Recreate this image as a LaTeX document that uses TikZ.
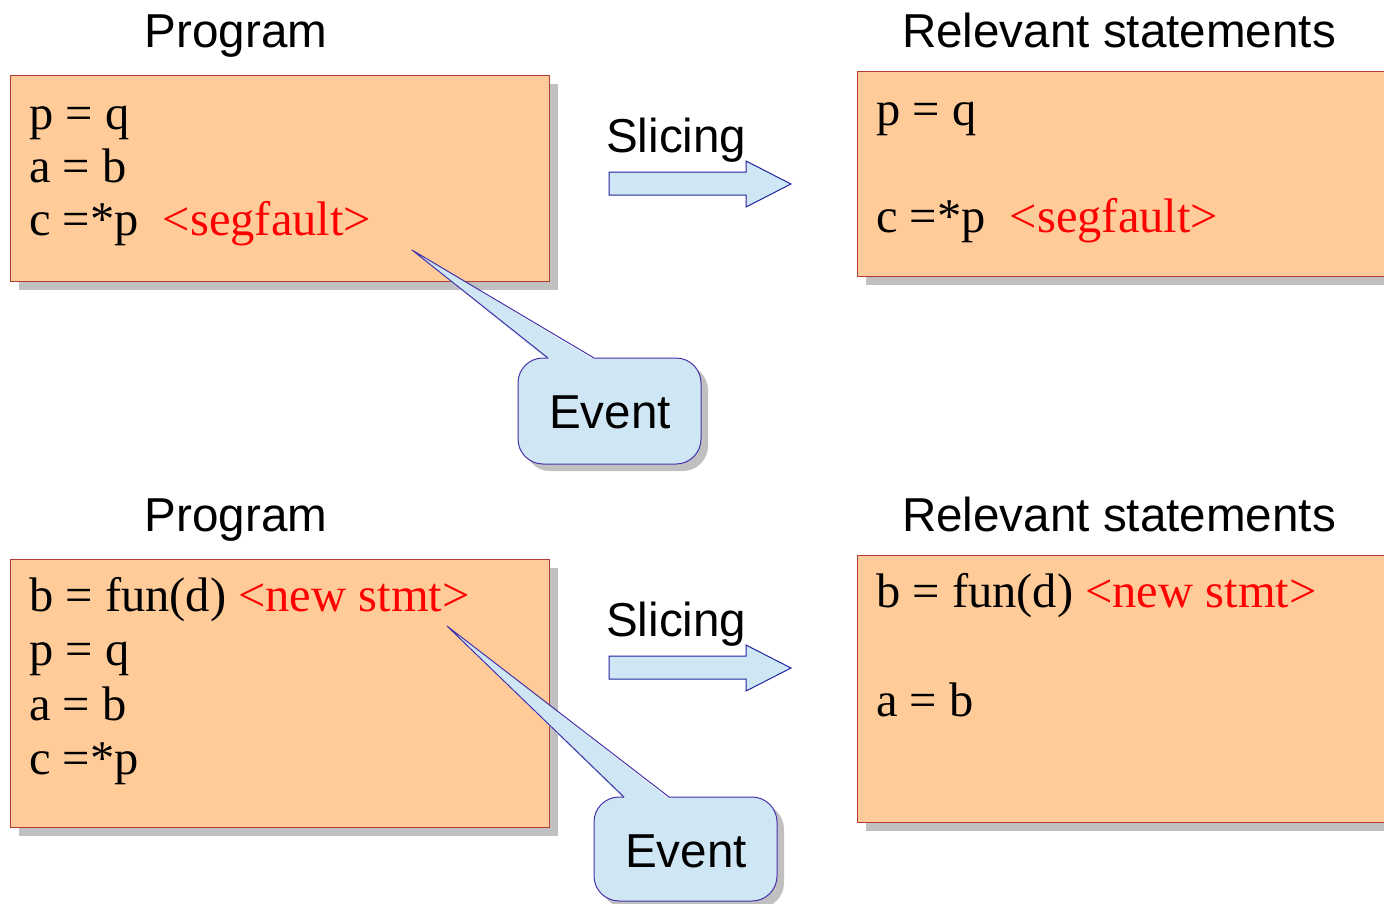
\documentclass[tikz,border=0pt]{standalone}
\usepackage{fontspec}
\setmainfont{Liberation Serif}
\newfontfamily\lsans{Liberation Sans}
\usetikzlibrary{shadows}
\definecolor{peach}{RGB}{255,204,153}
\definecolor{boxline}{RGB}{180,60,50}
\definecolor{shade}{RGB}{192,192,192}
\definecolor{pale}{RGB}{207,230,244}
\definecolor{navy}{RGB}{35,35,160}
\definecolor{calline}{RGB}{70,50,170}
\definecolor{segred}{RGB}{255,0,0}
\begin{document}
\begin{tikzpicture}[x=1pt,y=-1pt,
  codebox/.style={draw=boxline, line width=1pt, fill=peach, anchor=north west, inner sep=0pt,
    general shadow={fill=shade, shadow xshift=8pt, shadow yshift=-8pt}},
  code/.style={anchor=base west, inner sep=0pt, font=\fontsize{48.5}{52}\selectfont},
  title/.style={anchor=base, inner sep=0pt, font=\lsans\fontsize{47.6}{50}\selectfont},
  blockarrow/.style={draw=navy, fill=pale, line width=1pt, line join=miter},
  calfill/.style={fill=pale},
  calshadow/.style={fill=shade, rounded corners=25pt},
  caldraw/.style={draw=calline, line width=1pt, line join=round}
]
\useasboundingbox (0,0) rectangle (1384,903);
\clip (0,0) rectangle (1384,903);

% titles
\node[title] (t1) at (236,47) {Program};
\node[title] (t2) at (1119,47) {Relevant statements};
\node[title] (t3) at (236,531) {Program};
\node[title] (t4) at (1119,531) {Relevant statements};

% code boxes
\node[codebox, minimum width=539pt, minimum height=206pt] (prog1) at (10,75) {};
\node[codebox, minimum width=545pt, minimum height=205pt] (rel1) at (857,71) {};
\node[codebox, minimum width=539pt, minimum height=268pt] (prog2) at (10,559) {};
\node[codebox, minimum width=545pt, minimum height=267pt] (rel2) at (857,555) {};

% code text
\node[code] (p1a) at (29,129) {p = q};
\node[code] (p1b) at (29,182) {a = b};
\node[code] (p1c) at (29,235) {c =*p~~\textcolor{segred}{\textless segfault\textgreater}};
\node[code] (r1a) at (876,125) {p = q};
\node[code] (r1b) at (876,232) {c =*p~~\textcolor{segred}{\textless segfault\textgreater}};
\node[code] (p2a) at (29,611) {b = fun(d) \textcolor{segred}{\textless new stmt\textgreater}};
\node[code] (p2b) at (29,665) {p = q};
\node[code] (p2c) at (29,720) {a = b};
\node[code] (p2d) at (29,774) {c =*p};
\node[code] (r2a) at (876,607) {b = fun(d) \textcolor{segred}{\textless new stmt\textgreater}};
\node[code] (r2b) at (876,716) {a = b};

% slicing arrows
\node[title, anchor=base west] (s1) at (606,152) {Slicing};
\node[title, anchor=base west] (s2) at (606,636) {Slicing};
\draw[blockarrow] (609,172) -- (746,172) -- (746,161) -- (791,184) -- (746,207) -- (746,195) -- (609,195) -- cycle;
\draw[blockarrow] (609,656) -- (746,656) -- (746,645) -- (791,668) -- (746,691) -- (746,679) -- (609,679) -- cycle;

% callout 1
\coordinate (tip1) at (412,250);
\coordinate (a1) at (548,358);
\coordinate (b1) at (594,358);
\fill[calshadow] (525,365) rectangle (708,471);
\fill[calfill, rounded corners=25pt] (518,358) rectangle (701,464);
\fill[calfill] (tip1) -- ([yshift=-2pt]b1) -- ([yshift=-2pt]a1) -- cycle;
\fill[calfill] (a1) -- (b1) -- ++(0,4) -- ([yshift=4pt]a1) -- cycle;
\draw[caldraw, rounded corners=25pt] (a1) -- (518,358) -- (518,464) -- (701,464) -- (701,358) -- (b1);
\draw[caldraw] (a1) -- (tip1) -- (b1);
\node[title] (ev1) at (610,428) {Event};

% callout 2
\coordinate (tip2) at (447,626);
\coordinate (a2) at (624,797);
\coordinate (b2) at (669,797);
\fill[calshadow] (601,804) rectangle (784,908);
\fill[calfill, rounded corners=25pt] (594,797) rectangle (777,901);
\fill[calfill] (tip2) -- ([yshift=-2pt]b2) -- ([yshift=-2pt]a2) -- cycle;
\fill[calfill] (a2) -- (b2) -- ++(0,4) -- ([yshift=4pt]a2) -- cycle;
\draw[caldraw, rounded corners=25pt] (a2) -- (594,797) -- (594,901) -- (777,901) -- (777,797) -- (b2);
\draw[caldraw] (a2) -- (tip2) -- (b2);
\node[title] (ev2) at (686,867) {Event};
\end{tikzpicture}
\end{document}
